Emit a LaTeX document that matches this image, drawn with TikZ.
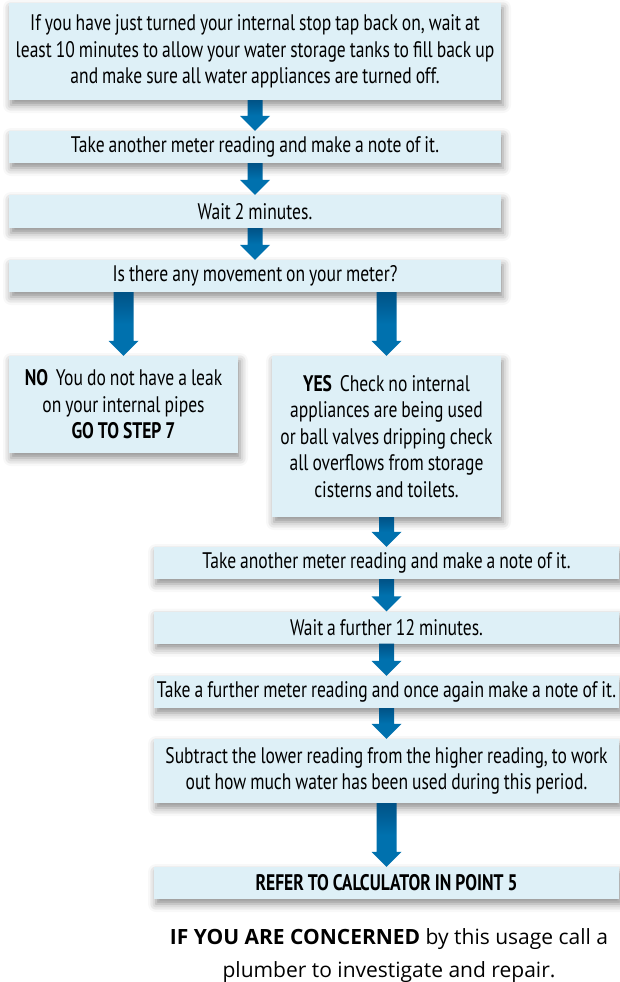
\documentclass[tikz,border=0pt]{standalone}
\usepackage{fontspec}
\setmainfont[FakeStretch=0.78]{PT Sans}
\newfontfamily\opensans{Open Sans}
\usetikzlibrary{shadows.blur,calc}
\definecolor{boxfill}{RGB}{222,240,247}
\definecolor{ablue}{RGB}{0,113,174}
\definecolor{adark}{RGB}{0,82,134}
\newcommand\boxfont{\fontsize{22.5}{26.5}\selectfont\spaceskip 4pt plus 1pt minus 1pt\relax}
\tikzset{
  stepbox/.style={fill=boxfill, inner sep=0pt, align=center, font=\boxfont,
    blur shadow={shadow xshift=2pt, shadow yshift=-5pt, shadow blur radius=8pt, shadow opacity=45}},
  arrowfill/.style={shade, top color=adark, bottom color=ablue, middle color=ablue},
}
\newcommand\flowarr[3][15]{%
  \path[arrowfill] let \p1=(#2.south), \p2=(#3.north) in
    (\x2-#1pt/2,\y1) -- (\x2+#1pt/2,\y1) -- (\x2+#1pt/2,\y2+15pt) -- (\x2+15pt,\y2+15pt)
    -- (\x2,\y2) -- (\x2-15pt,\y2+15pt) -- (\x2-#1pt/2,\y2+15pt) -- cycle;}
\begin{document}
\begin{tikzpicture}[x=1pt,y=-1pt]
\useasboundingbox (0,0) rectangle (619,982);
\node[stepbox, minimum width=492pt, minimum height=97pt] (b1) at (255,51.5)
  {If you have just turned your internal stop tap back on, wait at\\ least 10 minutes to allow your water storage tanks to fill back up\\ and make sure all water appliances are turned off.};
\node[stepbox, minimum width=492pt, minimum height=32pt] (b2) at (255,147)
  {Take another meter reading and make a note of it.};
\node[stepbox, minimum width=492pt, minimum height=33pt] (b3) at (255,211.5)
  {Wait 2 minutes.};
\node[stepbox, minimum width=492pt, minimum height=32pt] (b4) at (255,276)
  {Is there any movement on your meter?};
\node[stepbox, minimum width=229pt, minimum height=97pt] (no) at (123.5,404.5)
  {\textbf{NO}\hspace{0.35em}You do not have a leak\\ on your internal pipes\\ \textbf{GO TO STEP 7}};
\node[stepbox, minimum width=229pt, minimum height=161pt] (yes) at (386.5,436.5)
  {\textbf{YES}\hspace{0.35em}Check no internal\\ appliances are being used\\ or ball valves dripping check\\ all overflows from storage\\ cisterns and toilets.};
\node[stepbox, minimum width=465pt, minimum height=32pt] (b5) at (386.5,563)
  {Take another meter reading and make a note of it.};
\node[stepbox, minimum width=465pt, minimum height=32pt] (b6) at (386.5,627.5)
  {Wait a further 12 minutes.};
\node[stepbox, minimum width=465pt, minimum height=32pt] (b7) at (386.5,692)
  {Take a further meter reading and once again make a note of it.};
\node[stepbox, minimum width=465pt, minimum height=64pt] (b8) at (386.5,771)
  {Subtract the lower reading from the higher reading, to work\\ out how much water has been used during this period.};
\node[stepbox, minimum width=465pt, minimum height=32pt] (b9) at (386.5,883)
  {\textbf{REFER TO CALCULATOR IN POINT 5}};
\node[font=\opensans\fontsize{21}{33}\selectfont, align=center, inner sep=0pt] (note) at (389,955.5)
  {\textbf{IF YOU ARE CONCERNED} by this usage call a\\ plumber to investigate and repair.};
\flowarr{b1}{b2}
\flowarr{b2}{b3}
\flowarr{b3}{b4}
\flowarr[20]{b4}{no}
\flowarr[20]{b4}{yes}
\flowarr{yes}{b5}
\flowarr{b5}{b6}
\flowarr{b6}{b7}
\flowarr{b7}{b8}
\flowarr[20]{b8}{b9}
\end{tikzpicture}
\end{document}
